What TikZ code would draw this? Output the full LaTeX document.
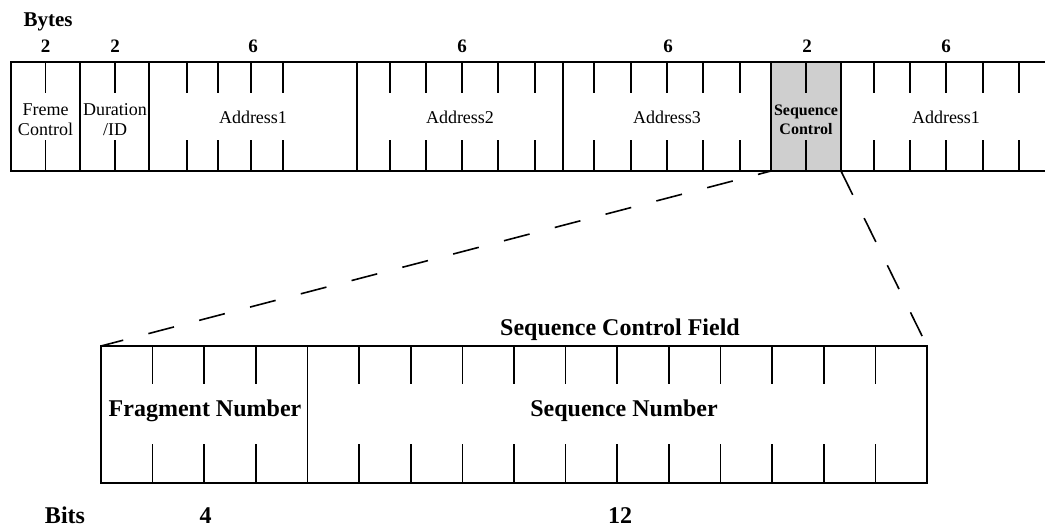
\documentclass[tikz,border=0pt]{standalone}
\usepackage{fontspec}
\setmainfont{Liberation Serif}
\usetikzlibrary{calc}
\definecolor{seqgray}{HTML}{CFCFCF}
\begin{document}
\begin{tikzpicture}[x=1pt,y=-1pt,
  rule/.style={line width=1.6pt, line cap=rect},
  cell/.style={draw, line width=1.6pt, rectangle, outer sep=0pt, inner sep=0pt},
  lbl/.style={font=\fontsize{18}{20}\selectfont, align=center, inner sep=0pt, anchor=base},
  blbl/.style={font=\bfseries\fontsize{16}{19}\selectfont, align=center, inner sep=0pt, anchor=base},
  hdr/.style={font=\bfseries\fontsize{19}{20}\selectfont, inner sep=0pt, anchor=base},
  big/.style={font=\bfseries\fontsize{24}{26}\selectfont, inner sep=0pt, anchor=base},
  zoomline/.style={line width=1.6pt, dash pattern=on 26.5pt off 26pt}]
\useasboundingbox (0,0) rectangle (1045,528);

% ---- MAC header row ----
\node[cell, fill=seqgray, minimum width=70pt, minimum height=109pt] (sc) at (806,116.5) {};
\draw[rule] (11,62) -- (1045,62) (11,171) -- (1045,171);
\foreach \x in {11,80,149,357,563,771,841}
  \draw[rule] (\x,62) -- (\x,171);
\foreach \x in {45.5,115,187,218,251,283,390,426,462,498,535,594,631,667,703,740,806,874,910,946,983,1019}
  \draw[rule, line cap=butt] (\x,62) -- (\x,93) (\x,140) -- (\x,171);

% byte counts
\node[hdr, font=\bfseries\fontsize{21}{21}\selectfont] (bytes) at (48,26) {Bytes};
\foreach \x/\n [count=\i] in {45.5/2,115/2,253/6,462/6,668/6,807/2,946/6}
  \node[hdr] (b\i) at (\x,52) {\n};

% field names (two-line labels sit on the baseline of their last line)
\node[lbl] (fc)  at (45.5,135) {Freme\\Control};
\node[lbl] (dur) at (115,135) {Duration\\/ID};
\node[lbl] (a1)  at (253,123) {Address1};
\node[lbl] (a2)  at (460,123) {Address2};
\node[lbl] (a3)  at (667,123) {Address3};
\node[blbl] (sct) at (806,134) {Sequence\\Control};
\node[lbl] (a4)  at (946,123) {Address1};

% ---- Sequence Control field, 16 bits ----
\node[cell, minimum width=826pt, minimum height=137pt] (scf) at (514,414.5) {};
\draw[rule] ($(scf.north west)!0.25!(scf.north east)$) -- ($(scf.south west)!0.25!(scf.south east)$);
\foreach \i in {1,2,3,5,6,7,8,9,10,11,12,13,14,15} {
  \coordinate (t) at ($(scf.north west)!\i/16!(scf.north east)$);
  \coordinate (u) at ($(scf.south west)!\i/16!(scf.south east)$);
  \draw[rule, line cap=butt] (t) -- ++(0,38) (u) -- ++(0,-39);
}
\node[big] (title) at (620,335) {Sequence Control Field};
\node[big] (frag) at (205,416) {Fragment Number};
\node[big] (seqn) at (624,416) {Sequence Number};
\node[big] (bits) at (65,523) {Bits};
\node[big] (n4) at (205.5,523) {4};
\node[big] (n12) at (620,523) {12};

% zoom-out lines
\draw[zoomline, dash phase=13pt] (sc.south west) -- (scf.north west);
\draw[zoomline] (sc.south east) -- (scf.north east);
\end{tikzpicture}
\end{document}
